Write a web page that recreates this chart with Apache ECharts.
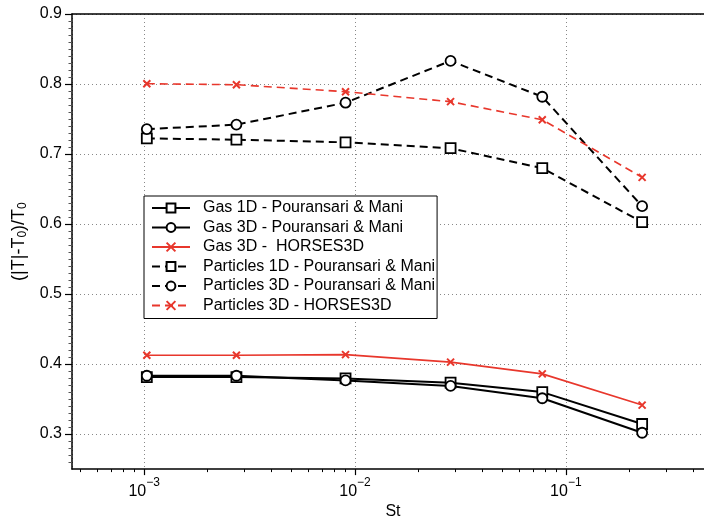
<!DOCTYPE html>
<html>
<head>
<meta charset="utf-8">
<script src="https://cdn.jsdelivr.net/npm/echarts@6.0.0/dist/echarts.min.js"></script>
<style>
html,body{margin:0;padding:0;background:#fff;}
#c{width:704px;height:525px;}
</style>
</head>
<body>
<div id="c"></div>
<script>
// ---- data ----
const stokes = [0.00103, 0.00274, 0.00902, 0.0284, 0.0773, 0.230];
const gas1DPM = [0.3814, 0.3814, 0.3795, 0.3735, 0.3600, 0.3144];
const gas3DPM = [0.3833, 0.3833, 0.3767, 0.3688, 0.3512, 0.3019];
const gas3DHorses = [0.4126, 0.4126, 0.4135, 0.4028, 0.3860, 0.3414];
const part1DPM = [0.7223, 0.7205, 0.7167, 0.7083, 0.6798, 0.6027];
const part3DPM = [0.7355, 0.7420, 0.7733, 0.8330, 0.7818, 0.6255];
const part3DHorses = [0.8004, 0.7990, 0.7890, 0.7748, 0.7490, 0.6667];
const seriesNames = [
  'Gas 1D - Pouransari & Mani',
  'Gas 3D - Pouransari & Mani',
  'Gas 3D -  HORSES3D',
  'Particles 1D - Pouransari & Mani',
  'Particles 3D - Pouransari & Mani',
  'Particles 3D - HORSES3D'
];
const yTickLabels = [0.3, 0.4, 0.5, 0.6, 0.7, 0.8, 0.9];

// ---- axis decoration (minor ticks) ----
const xMin = 4.55e-4, xMax = 0.452;
const xMinorTicks = [];
for (let d = -4; d <= -1; d++) {
  for (let k = 2; k <= 9; k++) {
    const v = k * Math.pow(10, d);
    if (v > xMin && v < xMax) xMinorTicks.push(Math.log10(v));
  }
}
const yMinorTicks = [];
for (let i = 26; i <= 89; i++) { if (i % 10 !== 0) yMinorTicks.push(i / 100); }

const RED = '#e8372c';
const FONT = 'Liberation Sans, Arial, Helvetica, sans-serif';
const zip = arr => stokes.map((s, i) => [s, arr[i]]);
const crossPath = 'path://M0,0L10,10M10,0L0,10';

function mk(name, data, dashed, kind) {
  const isRed = kind === 'x';
  const col = isRed ? RED : '#000';
  return {
    name: name, type: 'line', data: zip(data),
    xAxisIndex: 0, yAxisIndex: 0,
    symbol: kind === 'rect' ? 'rect' : (kind === 'circle' ? 'circle' : crossPath),
    symbolSize: kind === 'rect' ? 10 : (kind === 'circle' ? 10 : 7),
    showAllSymbol: true,
    lineStyle: { color: col, width: isRed ? 1.6 : 2, type: dashed ? [8, 5] : 'solid' },
    itemStyle: { color: isRed ? RED : '#fff', borderColor: col, borderWidth: isRed ? 2 : 1.8 },
    emphasis: { disabled: true },
    animation: false, z: isRed ? 3 : 2
  };
}

const chart = echarts.init(document.getElementById('c'));
chart.setOption({
  animation: false,
  textStyle: { fontFamily: FONT },
  grid: { left: 72, top: 14, right: 0, bottom: 46, show: false },
  legend: {
    orient: 'vertical', left: 144, top: 196,
    backgroundColor: '#fff', borderColor: '#000', borderWidth: 1,
    padding: [3, 2, 4, 7],
    itemWidth: 38, itemHeight: 11, itemGap: 1.5,
    textStyle: { fontSize: 16, color: '#000', lineHeight: 18, padding: [0, 0, 0, 8], fontFamily: FONT },
    selectedMode: false,
    data: seriesNames
  },
  xAxis: [{
    type: 'log', logBase: 10, min: xMin, max: xMax,
    name: 'St', nameLocation: 'middle', nameGap: 29,
    nameTextStyle: { fontSize: 16, color: '#000', padding: [0, 0, 0, 10] },
    axisLine: { lineStyle: { color: '#000', width: 1.5 } },
    axisTick: { show: true, length: 6, lineStyle: { color: '#000', width: 1.2 } },
    axisLabel: {
      showMinLabel: false, showMaxLabel: false, margin: 8, color: '#000',
      formatter: v => { const e = Math.round(Math.log10(v)); return '{b|10}{s|' + (e < 0 ? '\u2212' : '') + Math.abs(e) + '}'; },
      rich: { b: { fontSize: 16, color: '#000', lineHeight: 22, verticalAlign: 'bottom' }, s: { fontSize: 12, color: '#000', lineHeight: 22, verticalAlign: 'top' } }
    },
    splitLine: { show: true, lineStyle: { color: '#888', type: [1, 3], width: 1 } }
  }, {
    type: 'value', min: Math.log10(xMin), max: Math.log10(xMax), position: 'bottom', offset: 0,
    axisLine: { show: false },
    axisTick: { show: true, length: 3, customValues: xMinorTicks, lineStyle: { color: '#000', width: 1 } },
    axisLabel: { show: false }, splitLine: { show: false }
  }, {
    type: 'value', min: 0, max: 1, position: 'top', offset: 0,
    axisLine: { show: true, lineStyle: { color: '#000', width: 1.5 } },
    axisTick: { show: false }, axisLabel: { show: false }, splitLine: { show: false }
  }],
  yAxis: [{
    type: 'value', min: 0.25, max: 0.9, interval: 0.1,
    name: '(|T|-T{sub|0})/T{sub|0}', nameLocation: 'middle', nameGap: 38,
    nameTextStyle: { fontSize: 18, color: '#000', rich: { sub: { fontSize: 12, color: '#000', verticalAlign: 'bottom', padding: [8, 0, 0, 0] } } },
    axisLine: { show: true, lineStyle: { color: '#000', width: 1.5 } },
    axisTick: { show: true, length: 7, customValues: yTickLabels, lineStyle: { color: '#000', width: 1.2 } },
    axisLabel: { margin: 10, fontSize: 16, color: '#000', customValues: yTickLabels, formatter: v => v.toFixed(1) },
    splitLine: { show: true, lineStyle: { color: '#888', type: [1, 3], width: 1 } }
  }, {
    type: 'value', min: 0.25, max: 0.9, position: 'left', offset: 0,
    axisLine: { show: false },
    axisTick: { show: true, length: 3.5, customValues: yMinorTicks, lineStyle: { color: '#555', width: 1 } },
    axisLabel: { show: false }, splitLine: { show: false }
  }],
  series: [
    mk(seriesNames[0], gas1DPM, false, 'rect'),
    mk(seriesNames[1], gas3DPM, false, 'circle'),
    mk(seriesNames[2], gas3DHorses, false, 'x'),
    mk(seriesNames[3], part1DPM, true, 'rect'),
    mk(seriesNames[4], part3DPM, true, 'circle'),
    mk(seriesNames[5], part3DHorses, true, 'x')
  ]
});
</script>
</body>
</html>
